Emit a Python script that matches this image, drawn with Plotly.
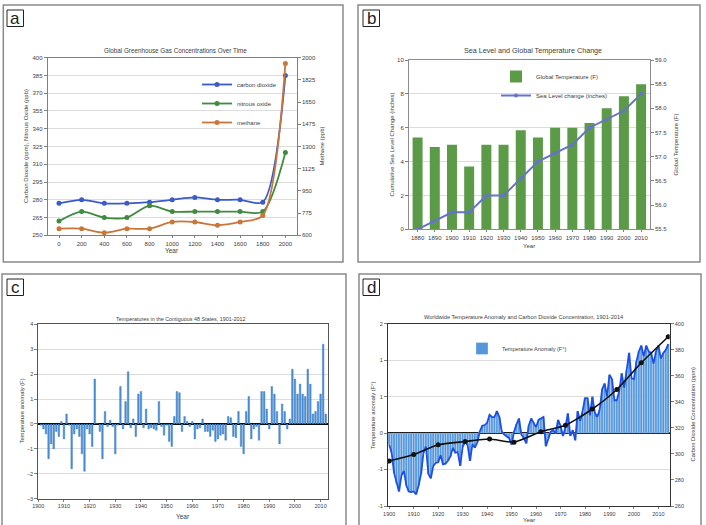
import plotly.graph_objects as go

W, H = 706, 525


def px(x):
    return x / W


def py(y):
    return 1 - y / H


FONT = "Liberation Sans, Arial, sans-serif"
TXT = "#404040"

# ---------------- Panel a data ----------------
a_years = ["0", "200", "400", "600", "800", "1000", "1200", "1400", "1600", "1800", "2000"]
a_co2 = [277, 280, 277, 277, 278, 280, 282, 280, 280, 278, 385]
a_n2o = [262, 270, 265, 265, 275, 270, 270, 270, 270, 270, 320]
a_ch4 = [652, 652, 620, 652, 652, 705, 705, 679, 705, 757, 1955]

# ---------------- Panel b data ----------------
b_years = ["1880", "1890", "1900", "1910", "1920", "1930", "1940",
           "1950", "1960", "1970", "1980", "1990", "2000", "2010"]
b_temp = [57.4, 57.2, 57.25, 56.8, 57.25, 57.25, 57.55, 57.4, 57.6, 57.6, 57.7, 58.0, 58.25, 58.5]
b_sea = [0, 0.5, 1.0, 1.0, 2.0, 2.0, 3.0, 4.0, 4.5, 5.0, 6.0, 6.5, 7.0, 8.0]

# ---------------- Panel c data (1901-2012) ----------------
c_years = list(range(1901, 2013))
c_anom = [
    -0.05, -0.2, -0.4, -1.4, -0.8, -1.0, -0.3, -0.5, 0.1, -0.6,      # 1901-1910
    0.4, -0.05, -1.8, -0.4, -0.2, -0.5, -1.2, -1.9, -0.2, -0.4,      # 1911-1920
    -0.9, 1.8, 0.02, -0.3, -1.4, 0.5, -0.1, 0.15, -0.1, -1.2,        # 1921-1930
    -0.05, 1.5, -0.2, 0.9, 2.1, -0.15, 0.2, -0.5, 1.2, 1.3,          # 1931-1940
    -0.15, 0.6, -0.2, -0.15, -0.2, -0.25, 0.9, -0.1, -0.45, -0.05,   # 1941-1950
    -0.7, -0.9, 0.3, 1.3, 1.25, -0.3, 0.3, 0.1, -0.1, 0.1,           # 1951-1960
    -0.6, -0.2, -0.15, 0.2, -0.3, -0.3, -0.5, -0.25, -0.7, -0.6,     # 1961-1970
    -0.45, -0.4, -0.65, 0.3, 0.25, -0.5, -0.55, 0.5, -0.9, -1.2,     # 1971-1980
    0.5, 1.1, -0.6, -0.2, -0.1, -0.65, 1.3, 1.3, 0.6, -0.2,          # 1981-1990
    1.5, 1.2, 0.5, -0.8, 0.8, 0.5, -0.2, 0.2, 2.2, 1.8,              # 1991-2000
    1.2, 1.6, 1.2, 1.1, 2.2, 1.6, 0.4, 0.5, 0.9, 1.2,                # 2001-2010
    3.2, 0.4,                                                        # 2011-2012
]

# ---------------- Panel d data (1900-2014) ----------------
d_years = list(range(1900, 2015))
d_anom = [
    -0.16, -0.27, -0.55, -0.69, -0.80, -0.58, -0.52, -0.72, -0.80, -0.81,   # 1900-1909
    -0.80, -0.84, -0.72, -0.56, -0.27, -0.18, -0.56, -0.62, -0.45, -0.41,   # 1910-1919
    -0.40, -0.30, -0.43, -0.42, -0.38, -0.32, -0.20, -0.27, -0.26, -0.45,   # 1920-1929
    -0.19, -0.12, -0.16, -0.38, -0.15, -0.20, -0.13, 0.02, 0.10, 0.11,      # 1930-1939
    0.14, 0.25, 0.22, 0.22, 0.30, 0.22, 0.02, -0.02, -0.05, -0.07,          # 1940-1949
    -0.16, 0.02, 0.12, 0.20, -0.02, -0.07, -0.14, 0.10, 0.20, 0.14,         # 1950-1959
    0.08, 0.18, 0.20, 0.22, -0.18, -0.07, 0.02, 0.04, 0.00, 0.18,           # 1960-1969
    0.10, -0.04, 0.08, 0.27, -0.04, 0.04, -0.10, 0.30, 0.16, 0.30,          # 1970-1979
    0.48, 0.48, 0.24, 0.50, 0.28, 0.22, 0.32, 0.60, 0.68, 0.50,             # 1980-1989
    0.80, 0.74, 0.45, 0.45, 0.58, 0.82, 0.62, 0.86, 1.10, 0.75,             # 1990-1999
    0.74, 0.98, 1.12, 1.20, 1.05, 1.20, 1.12, 1.10, 0.95, 1.12,             # 2000-2009
    1.20, 1.02, 1.10, 1.14, 1.22,                                           # 2010-2014
]
d_co2_years = [1900, 1910, 1920, 1931, 1941, 1951, 1962, 1972, 1983, 1993, 2003, 2014]
d_co2 = [294.5, 299.5, 307, 309.5, 311.5, 309, 317, 322, 334.5, 349.5, 370, 390]
d_left_ticks = [-1, -0.5, 0, 0.5, 1, 1.5]
d_left_labels = ["-1", "-1", "0", "1", "1", "2"]

fig = go.Figure()

# Panel a traces
fig.add_trace(go.Scatter(x=a_years, y=a_co2, name="carbon dioxide", mode="lines+markers",
                         line=dict(color="#3b5bc6", width=1.8, shape="spline", smoothing=0.8),
                         marker=dict(size=5, color="#3b5bc6"), xaxis="x", yaxis="y", legend="legend"))
fig.add_trace(go.Scatter(x=a_years, y=a_n2o, name="nitrous oxide", mode="lines+markers",
                         line=dict(color="#3f8b3f", width=1.8, shape="spline", smoothing=0.8),
                         marker=dict(size=5, color="#3f8b3f"), xaxis="x", yaxis="y", legend="legend"))
fig.add_trace(go.Scatter(x=a_years, y=a_ch4, name="methane", mode="lines+markers",
                         line=dict(color="#c8763a", width=1.8, shape="spline", smoothing=0.8),
                         marker=dict(size=5, color="#c8763a"), xaxis="x", yaxis="y2", legend="legend"))

# Panel b traces (bars rise from the bottom of the 55.5-59 axis)
fig.add_trace(go.Bar(x=b_years, y=b_temp, name="Global Temperature (F)",
                     marker=dict(color="#5b9a46", line=dict(width=0)), width=0.58,
                     xaxis="x2", yaxis="y3", legend="legend2"))
fig.add_trace(go.Scatter(x=b_years, y=b_sea, name="Sea Level change (inches)", mode="lines+markers",
                         line=dict(color="#6672cc", width=2), marker=dict(size=4, color="#6672cc"),
                         xaxis="x2", yaxis="y4", legend="legend2"))

# Panel c traces
fig.add_trace(go.Bar(x=c_years, y=c_anom, name="Temperature anomaly", showlegend=False,
                     marker=dict(color="#4d93d9", line=dict(color="#2f6fb8", width=0.4)), width=0.62,
                     xaxis="x3", yaxis="y5"))

# Panel d traces
fig.add_trace(go.Bar(x=d_years, y=d_anom, name="Temperature Anomaly (F°)",
                     marker=dict(color="#5597dd", line=dict(color="#ffffff", width=0.3)), width=1.0,
                     xaxis="x4", yaxis="y6", legend="legend3"))
fig.add_trace(go.Scatter(x=d_years, y=d_anom, mode="lines", showlegend=False,
                         line=dict(color="#1d4fe6", width=1.8), xaxis="x4", yaxis="y6"))
fig.add_trace(go.Scatter(x=d_co2_years, y=d_co2, mode="lines+markers", showlegend=False,
                         line=dict(color="#111111", width=1.6, shape="spline", smoothing=0.6),
                         marker=dict(size=5, color="#111111"), xaxis="x4", yaxis="y7"))

axis_common = dict(showline=True, mirror=True, ticks="outside", ticklen=3, tickwidth=1,
                   tickcolor="#808080", linewidth=1, automargin=False, zeroline=False)

layout = dict(
    width=W, height=H, margin=dict(l=0, r=0, t=0, b=0),
    paper_bgcolor="white", plot_bgcolor="white", showlegend=True,
    font=dict(family=FONT, color=TXT, size=6),
    barmode="overlay",
    # ---- panel a ----
    xaxis=dict(axis_common, domain=[px(47.7), px(296.7)], anchor="y", type="category",
               range=[-0.5, 10.5], ticklen=2, linecolor="#7f7f7f", showgrid=False,
               tickfont=dict(size=6)),
    yaxis=dict(axis_common, domain=[py(235.3), py(57.7)], anchor="x", range=[250, 400],
               tick0=250, dtick=15, showgrid=True, gridcolor="#dcdcdc", linecolor="#7f7f7f",
               tickfont=dict(size=6)),
    yaxis2=dict(axis_common, overlaying="y", side="right", anchor="x", range=[600, 2000],
                tick0=600, dtick=175, showgrid=False, linecolor="#7f7f7f", mirror=False,
                tickfont=dict(size=6)),
    # ---- panel b ----
    xaxis2=dict(axis_common, domain=[px(409), px(649.7)], anchor="y3", type="category",
                range=[-0.5, 13.5], ticklen=2, linecolor="#8c8c8c", showgrid=False,
                tickfont=dict(size=6)),
    yaxis3=dict(axis_common, domain=[py(229.3), py(60)], anchor="x2", side="right",
                range=[55.5, 59.0], dtick=0.5, tick0=55.5, tickformat=".1f", showgrid=False,
                linecolor="#8c8c8c", tickfont=dict(size=6)),
    yaxis4=dict(axis_common, overlaying="y3", side="left", anchor="x2", range=[0, 10], dtick=2,
                tick0=0, showgrid=True, gridcolor="#dcdcdc", linecolor="#8c8c8c", mirror=False,
                tickfont=dict(size=6)),
    # ---- panel c ----
    xaxis3=dict(axis_common, domain=[px(38.3), px(328.3)], anchor="y5", range=[1900, 2013],
                tick0=1900, dtick=10, ticklen=2, linecolor="#555555", showgrid=False,
                tickfont=dict(size=5.5)),
    yaxis5=dict(axis_common, domain=[py(498.7), py(324.3)], anchor="x3", range=[-3, 4], dtick=1,
                tick0=-3, showgrid=True, gridcolor="#dcdcdc", linecolor="#555555",
                zeroline=True, zerolinecolor="#000000", zerolinewidth=2, tickfont=dict(size=5.5)),
    # ---- panel d ----
    xaxis4=dict(axis_common, domain=[px(388), px(669.7)], anchor="y6", range=[1899.5, 2014.6],
                tick0=1900, dtick=10, ticklen=2, linecolor="#333333", showgrid=False,
                tickfont=dict(size=5.5)),
    yaxis6=dict(axis_common, domain=[py(506), py(323.7)], anchor="x4", range=[-1, 1.5],
                tickmode="array", tickvals=d_left_ticks, ticktext=d_left_labels,
                showgrid=True, gridcolor="#dcdcdc", linecolor="#333333",
                zeroline=True, zerolinecolor="#000000", zerolinewidth=2, tickfont=dict(size=5.5)),
    yaxis7=dict(axis_common, overlaying="y6", side="right", anchor="x4", range=[260, 400],
                dtick=20, tick0=260, showgrid=False, linecolor="#333333", mirror=False,
                tickfont=dict(size=5.5)),
    legend=dict(x=px(197), y=py(70), xanchor="left", yanchor="top", bgcolor="rgba(0,0,0,0)",
                font=dict(size=6), itemwidth=30, tracegroupgap=0),
    legend2=dict(x=px(496), y=py(62), xanchor="left", yanchor="top", bgcolor="rgba(0,0,0,0)",
                 font=dict(size=6), itemwidth=30),
    legend3=dict(x=px(462), y=py(334), xanchor="left", yanchor="top", bgcolor="rgba(0,0,0,0)",
                 font=dict(size=5.5), itemwidth=30),
)
fig.update_layout(layout)

# Panel frames and letter boxes
shapes = []
frames = [(3.3, 5, 343, 262), (358, 5, 700, 262), (2, 274, 346, 540), (359, 274, 701, 540)]
for (x0, y0, x1, y1) in frames:
    shapes.append(dict(type="rect", xref="paper", yref="paper", x0=px(x0), x1=px(x1),
                       y0=py(y1), y1=py(y0), line=dict(color="#8a8a8a", width=1.5),
                       fillcolor="rgba(0,0,0,0)", layer="below"))
letters = [("a", 7, 10), ("b", 363, 10), ("c", 7, 279), ("d", 363, 279)]
annotations = []
for (ch, lx, ly) in letters:
    shapes.append(dict(type="rect", xref="paper", yref="paper", x0=px(lx), x1=px(lx + 16.5),
                       y0=py(ly + 16.5), y1=py(ly), line=dict(color="#222222", width=1),
                       fillcolor="white"))
    annotations.append(dict(text=ch, xref="paper", yref="paper", x=px(lx + 8.25),
                            y=py(ly + 8.5), showarrow=False, xanchor="center", yanchor="middle",
                            font=dict(size=17, color="#222222", family=FONT)))


def note(text, x, y, size=6, angle=0):
    annotations.append(dict(text=text, xref="paper", yref="paper", x=px(x), y=py(y),
                            showarrow=False, xanchor="center", yanchor="middle", textangle=angle,
                            font=dict(size=size, color=TXT, family=FONT)))


# Titles
note("Global Greenhouse Gas Concentrations Over Time", 175, 50, 6.3)
note("Sea Level and Global Temperature Change", 533, 50.5, 7.2)
note("Temperatures in the Contiguous 48 States, 1901-2012", 181, 318.5, 5.4)
note("Worldwide Temperature Anomaly and Carbon Dioxide Concentration, 1901-2014", 523, 317, 5.6)
# Axis titles
note("Carbon Dioxide (ppm), Nitrous Oxide (ppb)", 26.5, 146.5, 6, -90)
note("Methane (ppb)", 322, 146.5, 6, -90)
note("Year", 172, 250.5, 6.5)
note("Cumulative Sea Level Change (inches)", 391, 144.5, 6, -90)
note("Global Temperature (F)", 675, 144.5, 6, -90)
note("Year", 529, 246, 6)
note("Temperature anomaly (F)", 21.5, 411, 5.8, -90)
note("Year", 183, 516.5, 6.5)
note("Temperature anomaly (F°)", 373, 415, 5.8, -90)
note("Carbon Dioxide Concentration (ppm)", 692.5, 415, 5.8, -90)
note("Year", 529, 520, 6)

fig.update_layout(shapes=shapes, annotations=annotations)
fig.write_html("out.html")
